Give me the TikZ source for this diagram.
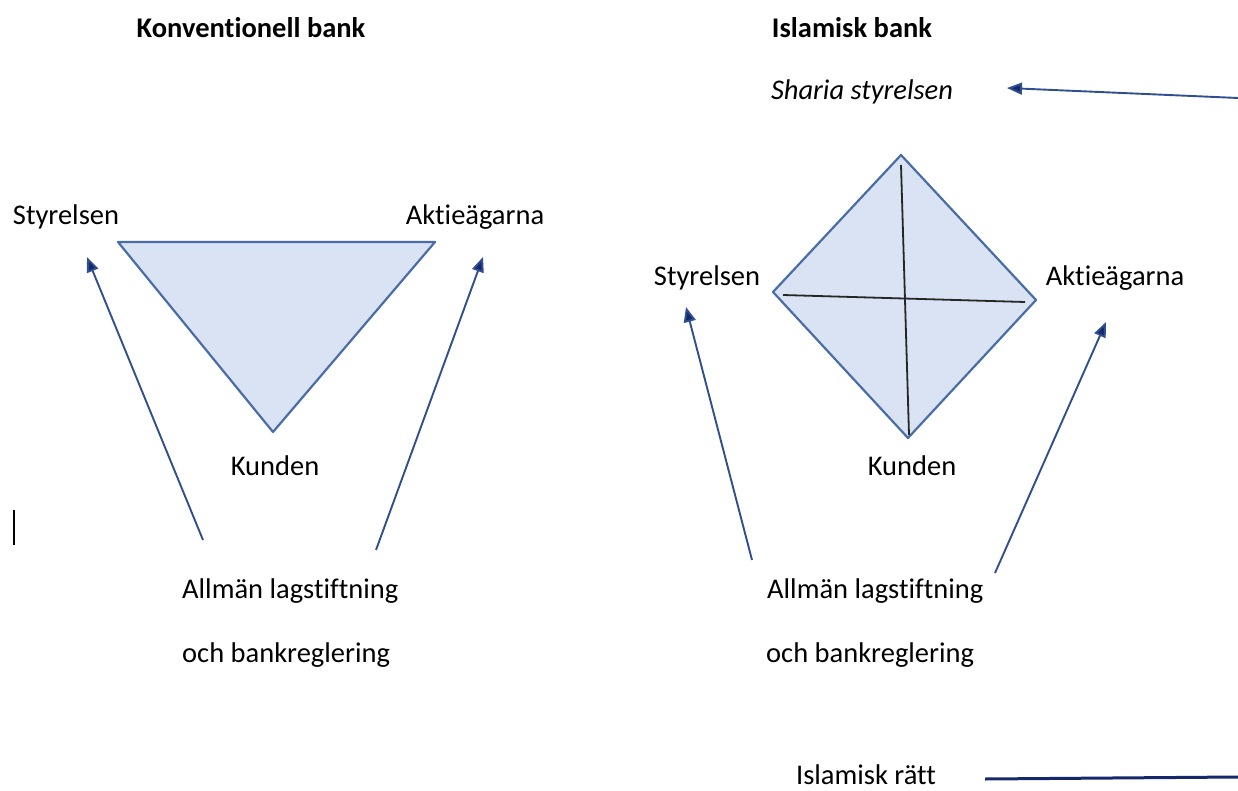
\documentclass[tikz,border=0pt]{standalone}
\usepackage{fontspec}
\setmainfont{Carlito}[Ligatures={NoCommon,NoContextual},Contextuals=NoAlternate]
\usetikzlibrary{arrows.meta}
\definecolor{shapefill}{HTML}{DAE3F3}
\definecolor{shapeline}{HTML}{4A6DA7}
\definecolor{arrowcol}{HTML}{2F4F8F}
\definecolor{navy}{HTML}{14286B}
\newcommand{\nl}{\kern0pt }
\tikzset{
  lbl/.style={inner sep=0pt, font=\fontsize{28.5}{34}\selectfont},
  ttl/.style={inner sep=0pt, font=\fontsize{28.5}{34}\selectfont\bfseries},
  plate/.style={draw=shapeline, fill=shapefill, line width=2.2pt, line join=round},
  cross/.style={draw=black!85, line width=1.8pt},
  arr/.style={draw=arrowcol, line width=1.9pt, -{Triangle[length=15pt,width=12pt,fill=navy]}},
}
\begin{document}
\begin{tikzpicture}[x=1pt,y=-1pt]
\useasboundingbox (0,0) rectangle (1238,791);
% ---------- left: conventional bank ----------
\node[ttl] (t1) at (251,28) {Konvent\nl ionell bank};
\node[lbl] (s1) at (66,217) {Styrelsen};
\node[lbl] (a1) at (475,217) {Akt\nl ieägarna};
\node[lbl] (k1) at (275,466) {Kunden};
\node[lbl, anchor=west] (l1a) at (182,591) {Allmän lagst\nl if\nl t\nl ning};
\node[lbl, anchor=west] (l1b) at (182,655) {och bankreglering};
\path[plate] (118,242) -- (435,242) -- (273,432) -- cycle;
\coordinate (p1a) at (203,540);
\coordinate (p1b) at (87,257);
\coordinate (p1c) at (376,550);
\coordinate (p1d) at (483,257);
\draw[arr] (p1a) -- (p1b);
\draw[arr] (p1c) -- (p1d);
\coordinate (cur1) at (14,510);
\coordinate (cur2) at (14,545);
\draw[black, line width=1.6pt] (cur1) -- (cur2);
% ---------- right: Islamic bank ----------
\node[ttl] (t2) at (852,28) {Islamisk bank};
\node[lbl, font=\fontsize{28.5}{34}\selectfont\itshape] (sh) at (862,92) {Sharia styrelsen};
\node[lbl] (s2) at (707,278) {Styrelsen};
\node[lbl] (a2) at (1115,278) {Akt\nl ieägarna};
\node[lbl] (k2) at (912,466) {Kunden};
\node[lbl, anchor=west] (l2a) at (767,591) {Allmän lagst\nl if\nl t\nl ning};
\node[lbl, anchor=west] (l2b) at (766,655) {och bankreglering};
\node[lbl] (ir) at (866,775) {Islamisk rätt};
\path[plate] (901,155) -- (1036,300) -- (908,438) -- (773,292) -- cycle;
\draw[cross] (901,165) -- (909,435);
\draw[cross] (783,295) -- (1025,302);
\coordinate (p2a) at (752,560);
\coordinate (p2b) at (686,307);
\coordinate (p2c) at (995,573);
\coordinate (p2d) at (1106,322);
\draw[arr] (p2a) -- (p2b);
\draw[arr] (p2c) -- (p2d);
\coordinate (shr) at (1238,98);
\coordinate (shl) at (1007,88);
\draw[arr] (shr) -- (shl);
\coordinate (irl) at (985,779);
\coordinate (irr) at (1238,777);
\draw[navy, line width=3pt] (irl) -- (irr);
\end{tikzpicture}
\end{document}
